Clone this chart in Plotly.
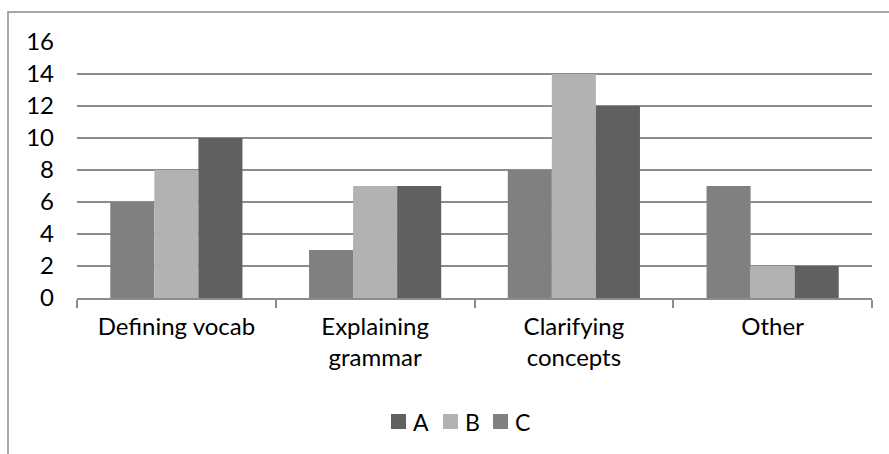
import plotly.graph_objects as go

categories = ["Defining vocab", "Explaining<br>grammar", "Clarifying<br>concepts", "Other"]
series_names = ["C", "B", "A"]
values_C = [6, 3, 8, 7]
values_B = [8, 7, 14, 2]
values_A = [10, 7, 12, 2]
colors = {"A": "#606060", "B": "#b2b2b2", "C": "#808080"}
y_ticks = [0, 2, 4, 6, 8, 10, 12, 14, 16]
legend_order = ["A", "B", "C"]

W, H = 889, 454
L, R, T, B = 77, 17, 42, 156
pw, ph = W - L - R, H - T - B


def px_x(x):
    return (x - L) / pw


def px_y(y):
    return (T + ph - y) / ph


fig = go.Figure()
for name, vals in zip(series_names, [values_C, values_B, values_A]):
    fig.add_trace(go.Bar(name=name, x=categories, y=vals, showlegend=False,
                         marker=dict(color=colors[name], line=dict(width=0))))

font = dict(family="Lato, Open Sans, sans-serif", size=24, color="#000000")

shapes = [dict(type="rect", xref="paper", yref="paper",
               x0=px_x(8), x1=px_x(W + 20), y0=px_y(H + 20), y1=px_y(12),
               line=dict(color="#8c8c8c", width=1.5), fillcolor="rgba(0,0,0,0)",
               layer="below")]
annotations = []
leg_x = [391, 443, 493]
for name, lx in zip(legend_order, leg_x):
    shapes.append(dict(type="rect", xref="paper", yref="paper",
                       x0=px_x(lx), x1=px_x(lx + 15), y0=px_y(429), y1=px_y(414),
                       line=dict(width=0), fillcolor=colors[name]))
    annotations.append(dict(xref="paper", yref="paper", x=px_x(lx + 20), y=px_y(422),
                            xanchor="left", yanchor="middle", text=name, showarrow=False,
                            font=dict(family="Lato, Open Sans, sans-serif", size=23,
                                      color="#000000")))

fig.update_layout(
    width=W, height=H,
    margin=dict(l=L, r=R, t=T, b=B, autoexpand=False),
    paper_bgcolor="white", plot_bgcolor="white",
    barmode="group", bargap=0.335, bargroupgap=0,
    font=font,
    showlegend=False,
    xaxis=dict(showgrid=False, showline=True, linecolor="#8c8c8c", linewidth=1.5,
               ticks="outside", ticklen=8, tickcolor="#8c8c8c", tickwidth=1.5,
               tickson="boundaries", ticklabelstandoff=6, automargin=False),
    yaxis=dict(range=[0, 16], tickvals=y_ticks, showgrid=True, gridcolor="#8c8c8c",
               gridwidth=1.5, zeroline=False, showline=False, ticks="",
               ticklabelstandoff=22, automargin=False),
    yaxis2=dict(range=[0, 16], tickvals=y_ticks, overlaying="y", side="right",
                showline=True, linecolor="#8c8c8c", linewidth=1.5,
                ticks="outside", ticklen=8, tickcolor="#8c8c8c", tickwidth=1.5,
                showticklabels=False, showgrid=False, zeroline=False, automargin=False),
    shapes=shapes,
    annotations=annotations,
)
fig.write_html("out.html", config={"displayModeBar": False},
               post_script="document.body.style.margin='0';")
